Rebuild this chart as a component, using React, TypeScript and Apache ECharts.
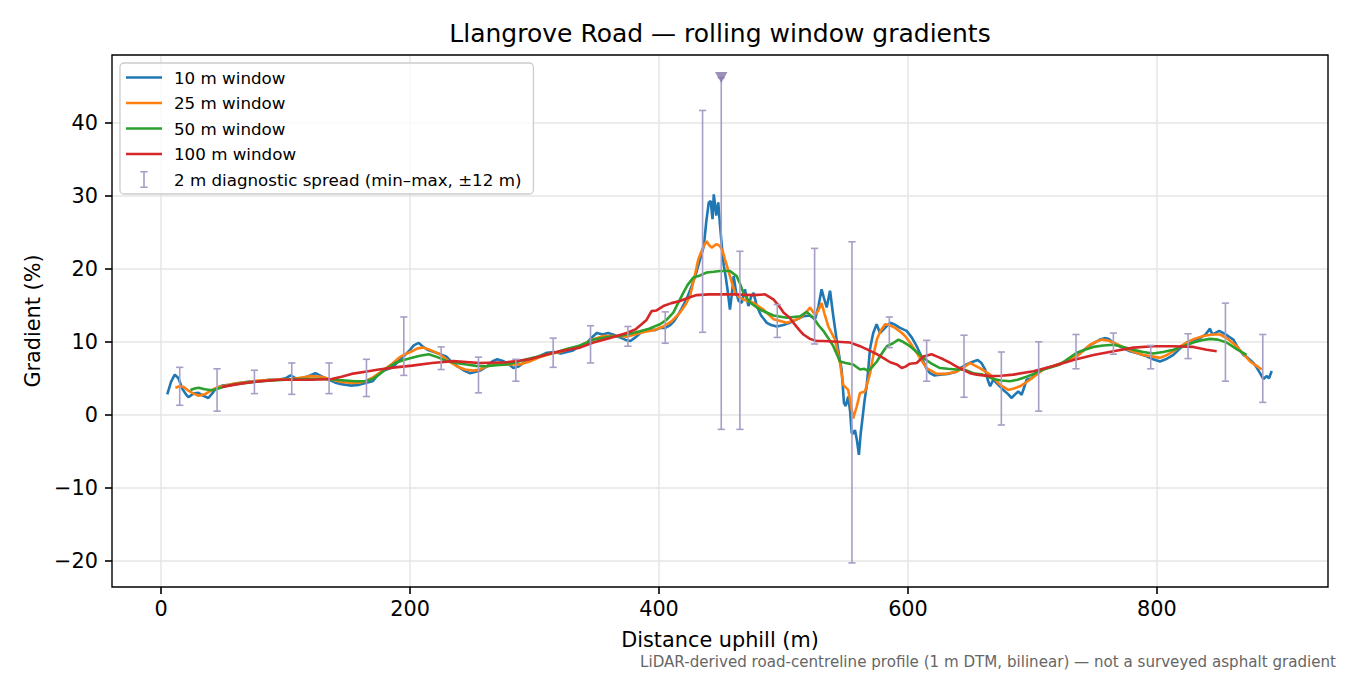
import { useEffect, useRef } from 'react';
import * as echarts from 'echarts';

const FONT = 'DejaVu Sans';

// rolling-window gradients, [distance m, gradient %]
const win10: [number, number][] = [
  [5, 2.8], [8, 4.5], [11, 5.5], [14, 5.0], [17, 3.6], [20, 2.8], [22, 2.4], [26, 2.9], [30, 3.0],
  [34, 2.6], [38, 2.3], [41, 2.9], [44, 3.6], [49, 4.0], [55, 4.1], [62, 4.3], [68, 4.5], [73, 4.6],
  [80, 4.6], [87, 4.8], [94, 4.8], [100, 5.0], [104, 5.4], [110, 4.8], [117, 5.2], [124, 5.7],
  [130, 5.2], [135, 4.8], [140, 4.4], [145, 4.2], [152, 4.0], [159, 4.1], [165, 4.4], [170, 4.6],
  [174, 5.4], [178, 6.0], [186, 6.5], [191, 7.4], [195, 8.0], [200, 8.9], [203, 9.5], [207, 9.85],
  [210, 9.4], [214, 8.9], [221, 8.5], [229, 8.0], [233, 7.3], [238, 6.65], [243, 6.1], [248, 5.7],
  [253, 5.9], [257, 6.1], [262, 6.65], [266, 7.3], [270, 7.6], [274, 7.4], [278, 7.1], [283, 6.4],
  [287, 6.6], [291, 7.1], [296, 7.5], [302, 7.8], [306, 8.2], [310, 8.5], [316, 8.6], [321, 8.4],
  [326, 8.6], [331, 8.8], [336, 9.4], [342, 9.85], [346, 10.6], [350, 11.2], [355, 11.0], [359, 11.2],
  [363, 11.0], [366, 10.8], [370, 10.5], [374, 10.2], [377, 10.1], [381, 10.6], [385, 11.2],
  [389, 11.5], [393, 11.7], [397, 11.6], [401, 11.9], [405, 11.9], [409, 12.3], [412, 12.8],
  [415, 13.6], [418, 14.5], [422, 15.8], [426, 17.5], [430, 19.5], [433, 21.3], [436, 23.1],
  [438, 26.5], [440, 29.1], [441.5, 29.3], [443, 26.8], [444, 30.2], [446, 27.3], [447.6, 29.1],
  [449, 26.0], [450.5, 23.1], [452, 20.5], [453.5, 19.0], [455, 17.2], [457, 14.4], [458.5, 16.5],
  [460, 19.0], [462, 16.7], [464, 15.6], [466.5, 15.35], [469, 17.2], [471.8, 14.9], [474, 16.2],
  [476, 16.7], [478.5, 14.9], [482, 13.6], [486.6, 12.6], [490, 12.3], [494.6, 12.1], [500, 12.3],
  [505, 12.6], [510, 13.0], [516, 13.5], [521, 13.6], [525.3, 13.1], [528, 14.8], [530.6, 17.2],
  [532.5, 16.0], [534.7, 14.7], [537.4, 17.0], [540, 13.5], [542.7, 10.3], [545, 7.8], [546.7, 6.2],
  [548.6, 1.6], [550, 1.2], [552, 2.5], [553.5, 0.5], [554.8, -2.5], [556, -2.6], [557.4, -2.1],
  [559, -3.5], [560.6, -5.5], [562, -2.6], [563.6, -0.3], [565, 1.8], [566.8, 3.9], [568, 6.0],
  [569.4, 8.9], [571, 10.3], [572.1, 11.2], [574.8, 12.4], [577.5, 11.2], [581, 11.8], [585.5, 12.6],
  [589, 12.4], [593.6, 11.9], [598.9, 11.5], [603, 10.6], [607, 9.4], [610, 8.3], [612.4, 7.3],
  [615, 6.3], [617.7, 5.7], [621, 5.4], [625.7, 5.5], [632, 5.6], [639, 5.9], [643, 6.5], [647, 6.9],
  [651, 7.2], [656, 7.5], [659, 7.1], [662, 6.2], [664, 4.8], [666, 3.9], [668.5, 4.8], [672, 4.2],
  [676.6, 3.4], [680, 2.9], [683.3, 2.3], [686, 2.8], [688.6, 3.2], [691.3, 2.75], [693, 3.6],
  [695.3, 4.8], [699.4, 5.0], [703.4, 5.96], [707, 6.1], [711.4, 6.4], [717, 6.7], [722, 7.0],
  [728, 7.3], [733, 7.8], [738, 8.4], [743.6, 9.2], [749, 9.8], [754.3, 10.3], [758, 10.5],
  [761, 10.4], [764, 10.0], [767.7, 9.6], [773, 9.1], [778.4, 8.7], [785, 8.4], [791.8, 8.0],
  [797, 7.6], [802.5, 7.3], [807, 7.6], [813.2, 8.2], [818, 9.0], [823.9, 9.9], [829, 10.2],
  [834.6, 10.5], [839, 11.0], [842.6, 11.8], [844.5, 11.0], [846.7, 11.2], [850, 11.5], [853.4, 11.2],
  [857, 10.8], [861.4, 10.3], [865, 9.2], [869.5, 8.2], [873, 7.8], [877.5, 7.1], [880, 6.5],
  [882.8, 5.7], [885.5, 4.9], [888.2, 5.3], [890, 5.0], [892.2, 6.0],
];

const win25: [number, number][] = [
  [11.5, 3.7], [15, 3.9], [18.2, 3.8], [22, 3.3], [26, 2.9], [30.3, 2.6], [35, 2.8], [41, 3.4],
  [46, 3.8], [51.7, 4.0], [60, 4.3], [70, 4.5], [78.4, 4.7], [90, 4.8], [105, 4.9], [113, 5.1],
  [121, 5.3], [129, 5.2], [137.4, 4.8], [145, 4.5], [153.4, 4.35], [159, 4.4], [164, 4.6], [170, 5.1],
  [177.5, 6.0], [185, 6.9], [191, 7.8], [196, 8.3], [201.6, 8.7], [206, 9.1], [210.7, 9.2], [216, 8.9],
  [224, 8.3], [230, 7.5], [237.5, 6.65], [244, 6.2], [251, 6.05], [256, 6.2], [261.5, 6.65], [269, 6.9],
  [277.5, 6.9], [288, 6.9], [296, 7.3], [304.4, 7.9], [312, 8.3], [320.5, 8.6], [328, 9.0],
  [336.5, 9.4], [341.9, 9.9], [348, 10.4], [355.3, 10.8], [364, 10.8], [368.7, 10.8], [374, 10.7],
  [384.7, 11.2], [390, 11.4], [396, 11.6], [403.5, 12.1], [410, 12.8], [416.9, 14.0], [421, 15.0],
  [425, 16.3], [428, 18.5], [431.6, 21.3], [435, 22.8], [438.3, 23.8], [440, 23.3], [442.3, 22.9],
  [446.3, 23.4], [449, 23.1], [451, 22.5], [453, 21.3], [457, 19.0], [461, 16.7], [464, 16.2],
  [467.8, 15.8], [475.8, 15.35], [483.9, 14.4], [492, 13.1], [502.7, 12.6], [508, 12.9], [513.4, 13.3],
  [518, 14.0], [521.3, 14.7], [525.3, 13.7], [528, 14.3], [530.6, 15.3], [533, 13.8], [536, 12.1],
  [541.4, 10.3], [545.4, 7.1], [548, 4.1], [552, 3.4], [554, 1.5], [556, -0.5], [558.8, 1.1],
  [561.5, 3.0], [565.5, 3.2], [569.6, 5.7], [572, 8.0], [575, 10.3], [578, 11.5], [581.6, 12.4],
  [585, 12.3], [589.6, 11.9], [593, 11.5], [597.7, 10.8], [602, 9.8], [607, 8.5], [611, 7.4],
  [615, 6.4], [623, 5.6], [630, 5.6], [639, 5.9], [644, 6.4], [649.8, 7.1], [653, 6.8], [657.8, 6.4],
  [665.9, 5.5], [670, 4.8], [674, 4.1], [680.6, 3.4], [685, 3.6], [690, 3.9], [698, 4.8], [708.7, 6.2],
  [715, 6.6], [722.2, 7.0], [728, 7.4], [735.5, 8.0], [741, 8.8], [746.3, 9.6], [751, 10.0],
  [755.6, 10.3], [760, 10.2], [765, 9.9], [770, 9.5], [775.7, 9.0], [782, 8.6], [789, 8.2], [796, 8.0],
  [802.5, 7.8], [808, 8.2], [813.2, 8.7], [818, 9.3], [823.9, 9.9], [830, 10.4], [837.3, 10.8],
  [844, 11.0], [850.7, 11.0], [857, 10.4], [864, 9.4], [869, 8.4], [874.8, 7.3], [880, 6.7], [884.2, 6.2],
];

const win50: [number, number][] = [
  [23.6, 3.4], [27, 3.6], [30.3, 3.7], [35, 3.5], [41, 3.35], [46, 3.6], [51.7, 3.9], [60, 4.2],
  [70, 4.4], [80, 4.6], [90, 4.7], [100, 4.8], [110, 4.9], [120, 4.9], [130, 4.9], [140, 4.8],
  [148, 4.7], [156, 4.6], [164, 4.6], [170, 4.9], [175, 5.5], [181, 6.3], [188, 7.1], [195, 7.5],
  [201.6, 7.8], [208, 8.1], [215, 8.3], [222, 7.9], [229.5, 7.35], [237, 7.1], [245.5, 6.9], [253, 6.7],
  [261.5, 6.65], [269, 6.8], [277.5, 6.9], [285, 7.2], [293.6, 7.6], [301, 7.9], [309.8, 8.3],
  [318, 8.6], [325.8, 9.0], [336.5, 9.5], [347.3, 10.3], [360, 10.7], [368.7, 10.8], [374, 11.0],
  [384.7, 11.45], [392, 11.8], [400.8, 12.4], [406, 13.0], [411.5, 14.0], [415, 15.2], [419.5, 16.7],
  [423, 17.8], [427.6, 18.8], [433, 19.1], [438.3, 19.5], [444, 19.6], [449, 19.7], [457, 19.7],
  [462.4, 19.0], [465, 18.0], [467.8, 16.7], [473.2, 15.35], [481.2, 14.4], [491.9, 13.6],
  [502.6, 13.3], [508, 13.4], [513.4, 13.5], [518.6, 14.1], [524, 13.3], [528, 12.3], [532, 11.5],
  [536, 10.5], [540, 9.4], [545.4, 7.3], [550, 7.1], [556, 6.9], [561.5, 6.2], [565, 6.3], [568, 6.0],
  [571, 6.5], [575, 7.3], [579, 8.4], [583, 9.4], [588, 9.8], [592.3, 10.3], [596, 10.0], [601.6, 9.4],
  [607, 8.6], [612.4, 7.8], [619, 7.0], [625.7, 6.4], [632, 6.3], [639, 6.2], [645, 6.2], [652.5, 5.7],
  [660, 5.5], [668.5, 4.9], [675, 4.7], [682, 4.6], [688, 4.8], [695.3, 5.2], [701, 5.6], [708.7, 6.2],
  [715, 6.5], [722.2, 6.9], [728, 7.6], [735.5, 8.5], [742, 8.9], [749, 9.3], [757, 9.5], [765, 9.6],
  [773, 9.3], [781, 8.9], [789, 8.6], [797, 8.4], [805, 8.6], [813.2, 8.9], [821, 9.4], [829.2, 9.9],
  [836, 10.2], [842.6, 10.4], [849, 10.3], [856, 9.9], [864, 9.0], [872, 8.2],
];

const win100: [number, number][] = [
  [49, 3.8], [58, 4.1], [67.7, 4.35], [80, 4.6], [94.5, 4.8], [108, 4.8], [121, 4.8], [137, 4.9],
  [145, 5.2], [153, 5.6], [164, 5.9], [175, 6.2], [188, 6.5], [201.6, 6.74], [217.7, 7.1],
  [234.8, 7.35], [256, 7.1], [277.5, 7.2], [296.3, 7.6], [315, 8.5], [320.5, 8.7], [336.5, 9.2],
  [347.3, 9.9], [360, 10.5], [374, 11.2], [381, 11.7], [386, 12.4], [390, 13.0], [394, 14.2],
  [398, 14.3], [403.5, 14.9], [410, 15.3], [416.9, 15.6], [423, 16.0], [430.3, 16.4], [440, 16.5],
  [449, 16.5], [460, 16.5], [475.8, 16.4], [485.2, 16.5], [491.9, 15.8], [496, 15.0], [500, 14.0],
  [505, 13.3], [508, 12.6], [513.3, 11.5], [516, 11.0], [521.3, 10.4], [526.7, 10.1], [532, 10.1],
  [543, 10.0], [553.4, 9.9], [561.5, 9.4], [568, 8.9], [575, 8.3], [580, 7.8], [585.7, 7.2],
  [591, 6.9], [595, 6.4], [598, 6.6], [601.6, 7.0], [607, 7.1], [612.4, 8.0], [619, 8.3], [623, 8.0],
  [628.4, 7.6], [633, 7.2], [639, 6.6], [644, 6.2], [649.8, 5.7], [655.2, 5.5], [665.7, 5.3],
  [675, 5.35], [684.6, 5.5], [700.7, 5.96], [716.8, 6.7], [732.9, 7.5], [749, 8.2], [765, 8.7],
  [781, 9.2], [797, 9.4], [813.2, 9.4], [829.2, 9.3], [839.9, 8.9], [848, 8.7],
];

// 2 m diagnostic spread, min..max within ±12 m
const errX = [15, 45, 75, 105, 135, 165, 195, 225, 255, 285, 315, 345, 375, 405, 435, 450, 465, 495, 525,
  555, 585, 615, 645, 675, 705, 735, 765, 795, 825, 855, 885];
const errLo = [1.3, 0.5, 2.9, 2.8, 2.9, 2.5, 5.4, 6.2, 3.0, 4.6, 6.5, 7.1, 9.4, 9.8, 11.3, -2.0, -2.0,
  10.6, 9.7, -20.3, 9.2, 4.6, 2.4, -1.4, 0.5, 6.3, 8.3, 6.3, 7.7, 4.6, 1.7];
const errHi = [6.5, 6.3, 6.1, 7.1, 7.1, 7.6, 13.4, 9.3, 7.9, 7.6, 10.5, 12.2, 12.1, 14.1, 41.7, 46.2, 22.4,
  15.1, 22.8, 23.7, 13.4, 10.2, 10.9, 8.6, 10.0, 11.0, 11.2, 9.5, 11.1, 15.3, 11.0];

// spread clipped at the top of the axis
const clipX = [450];
const clipY = [46.2];

const xTicks = [0, 200, 400, 600, 800];
const yTicks = [-20, -10, 0, 10, 20, 30, 40];

const lineNames = ['10 m window', '25 m window', '50 m window', '100 m window'];
const lineColors = ['#1f77b4', '#ff7f0e', '#2ca02c', '#d62728'];
const errName = '2 m diagnostic spread (min\u2013max, \u00b112 m)';
const ERR_COLOR = '#a99dc6';

const LINE_ICON = 'path://M0,0h36v2.6h-36z';
const ERR_ICON = 'path://M14.3,0h7.4v1.6h-2.9v13.8h2.9v1.6h-7.4v-1.6h2.9v-13.8h-2.9z';

export default function App() {
  const ref = useRef<HTMLDivElement>(null);

  useEffect(() => {
    if (!ref.current) return;
    const chart = echarts.init(ref.current, undefined, { renderer: 'svg' });

    const lines = [win10, win25, win50, win100].map((data, i) => ({
      name: lineNames[i],
      type: 'line',
      data,
      symbol: 'none',
      smooth: false,
      color: lineColors[i],
      lineStyle: { width: 2.6, color: lineColors[i] },
      z: 2 + i,
    }));

    const option: any = {
      animation: false,
      backgroundColor: '#fff',
      textStyle: { fontFamily: FONT },
      title: {
        text: 'Llangrove Road \u2014 rolling window gradients',
        left: 715,
        top: 16,
        textAlign: 'center',
        textStyle: { fontFamily: FONT, fontSize: 25, fontWeight: 'normal', color: '#000' },
      },
      legend: {
        orient: 'vertical',
        left: 120,
        top: 63,
        padding: [6, 12, 6, 6],
        itemWidth: 36,
        itemHeight: 17,
        itemGap: 8.5,
        selectedMode: false,
        backgroundColor: 'rgba(255,255,255,0.8)',
        borderColor: '#cccccc',
        borderWidth: 1.3,
        borderRadius: 4,
        textStyle: { fontFamily: FONT, fontSize: 16.7, color: '#000', lineHeight: 17, padding: [0, 0, 0, 7] },
        data: [
          ...lineNames.map((name) => ({ name, icon: LINE_ICON })),
          { name: errName, icon: ERR_ICON },
        ],
      },
      grid: { left: 112, right: 22, top: 55, bottom: 88, containLabel: false },
      xAxis: {
        type: 'value',
        min: -39.4,
        max: 937.4,
        name: 'Distance uphill (m)',
        nameLocation: 'middle',
        nameGap: 42,
        nameTextStyle: { fontFamily: FONT, fontSize: 20.8, color: '#000' },
        axisLine: { show: false, onZero: false },
        axisTick: { show: true, customValues: xTicks, length: 7, lineStyle: { color: '#000', width: 1.6 } },
        axisLabel: { customValues: xTicks, margin: 11, fontFamily: FONT, fontSize: 20.8, color: '#000' },
        splitLine: { show: true, lineStyle: { color: '#e6e6e6', width: 1.5 } },
      },
      yAxis: {
        type: 'value',
        min: -23.6,
        max: 49.3,
        name: 'Gradient (%)',
        nameLocation: 'middle',
        nameGap: 68,
        nameRotate: 90,
        nameTextStyle: { fontFamily: FONT, fontSize: 20.8, color: '#000' },
        axisLine: { show: false, onZero: false },
        axisTick: { show: true, customValues: yTicks, length: 7, lineStyle: { color: '#000', width: 1.6 } },
        axisLabel: {
          customValues: yTicks,
          margin: 14,
          fontFamily: FONT,
          fontSize: 20.8,
          color: '#000',
          formatter: (v: number) => String(v).replace('-', '\u2212'),
        },
        splitLine: { show: true, lineStyle: { color: '#e6e6e6', width: 1.5 } },
      },
      series: [
        ...lines,
        {
          name: errName,
          type: 'custom',
          itemStyle: { color: ERR_COLOR },
          color: ERR_COLOR,
          z: 8,
          encode: { x: 0, y: [1, 2] },
          data: errX.map((x, i) => [x, errLo[i], errHi[i]]),
          renderItem: (_params: any, api: any) => {
            const x = api.value(0);
            const top = api.coord([x, api.value(2)]);
            const bot = api.coord([x, api.value(1)]);
            const cap = 3.6;
            const style = { stroke: ERR_COLOR, lineWidth: 1.6 };
            return {
              type: 'group',
              children: [
                { type: 'line', shape: { x1: top[0], y1: top[1], x2: bot[0], y2: bot[1] }, style },
                { type: 'line', shape: { x1: top[0] - cap, y1: top[1], x2: top[0] + cap, y2: top[1] }, style },
                { type: 'line', shape: { x1: bot[0] - cap, y1: bot[1], x2: bot[0] + cap, y2: bot[1] }, style },
              ],
            };
          },
        },
        {
          name: 'clipped',
          type: 'scatter',
          symbol: 'triangle',
          symbolRotate: 180,
          symbolSize: [12.5, 11],
          itemStyle: { color: '#8676a8' },
          z: 9,
          data: clipX.map((x, i) => [x, clipY[i]]),
        },
      ],
      graphic: [
        {
          type: 'rect',
          z: 100,
          silent: true,
          shape: { x: 112, y: 55, width: 1216, height: 532 },
          style: { fill: 'none', stroke: '#000', lineWidth: 1.4 },
        },
        {
          type: 'text',
          right: 14,
          top: 654,
          style: {
            text: 'LiDAR-derived road-centreline profile (1 m DTM, bilinear) \u2014 not a surveyed asphalt gradient',
            fontFamily: FONT,
            fontSize: 15.1,
            fill: '#666',
          },
        },
      ],
    };

    chart.setOption(option);
    return () => chart.dispose();
  }, []);

  return (
    <div
      ref={ref}
      style={{ position: 'fixed', left: 0, top: 0, width: 1350, height: 675, background: '#fff' }}
    />
  );
}
